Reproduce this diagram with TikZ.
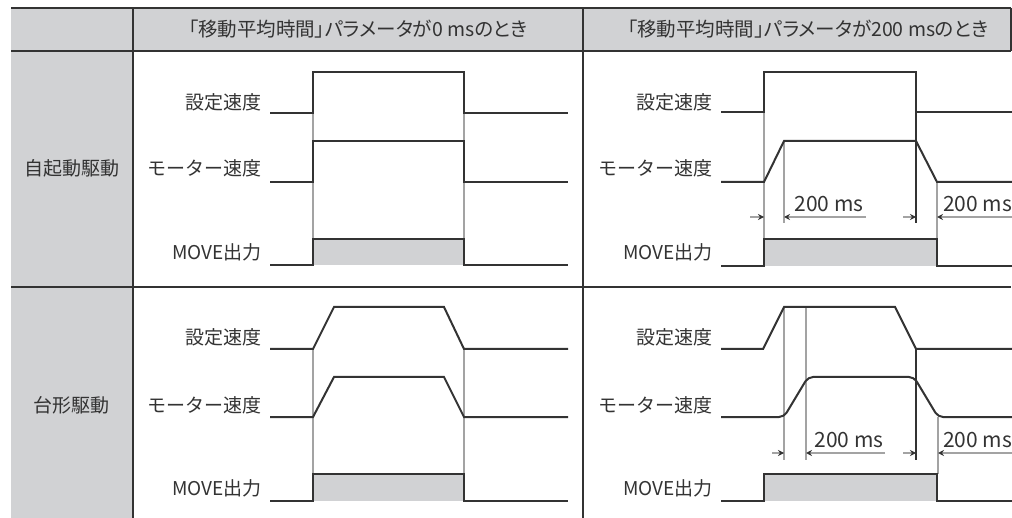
\documentclass[tikz,border=0pt]{standalone}
\usepackage{fontspec}
\setmainfont{Noto Sans CJK JP}
\newfontfamily\headfont[RawFeature=+palt]{Noto Sans CJK JP}
\usepackage{tikz}
\usetikzlibrary{arrows.meta}
\definecolor{cellgray}{HTML}{D1D2D4}
\definecolor{sig}{HTML}{333333}
\definecolor{guide}{HTML}{A3A3A3}
\tikzset{
 sigline/.style={sig, line width=2pt},
 guideline/.style={guide, line width=1.3pt},
 dimline/.style={guide, line width=1.3pt, -{Stealth[color=sig, length=6pt, width=6pt, inset=2pt]}},
 lbl/.style={anchor=east, inner sep=0pt, text=sig, font=\fontsize{19}{22}\selectfont},
 headtxt/.style={inner sep=0pt, text=sig, font=\headfont\fontsize{19.5}{22}\selectfont},
 rowtxt/.style={inner sep=0pt, text=sig, font=\fontsize{19}{22}\selectfont},
 dimtxt/.style={inner sep=0pt, text=sig, font=\fontsize{21}{24}\selectfont}
}

\begin{document}
\begin{tikzpicture}[x=1pt,y=-1pt]
\useasboundingbox (0,0) rectangle (1012,518);
\clip (0,0) rectangle (1012,518);
% table
\fill[cellgray] (11,8) rectangle (1011,51);
\fill[cellgray] (11,51) rectangle (133,518);
\draw[sigline] (11,8) -- (1011,8);
\draw[sigline] (11,51) -- (1011,51);
\draw[sigline] (11,287) -- (1011,287);
\draw[sigline] (133,8) -- (133,518);
\draw[sigline] (583,8) -- (583,518);
\draw[sigline] (1011,8) -- (1011,51);
\node[headtxt] (head0) at (358,29) {「移動平均時間」パラメータが0 msのとき};
\node[headtxt] (head200) at (808,29) {「移動平均時間」パラメータが200 msのとき};
\node[rowtxt] (rowjiki) at (72,168) {自起動駆動};
\node[rowtxt] (rowdai) at (72,405) {台形駆動};
\foreach \xr/\c in {262/l, 713/r} {
 \node[lbl] (set1\c) at (\xr,102) {設定速度};
 \node[lbl] (mot1\c) at (\xr,168) {モーター速度};
 \node[lbl] (move1\c) at (\xr,252) {MOVE出力};
 \node[lbl] (set2\c) at (\xr,337) {設定速度};
 \node[lbl] (mot2\c) at (\xr,405) {モーター速度};
 \node[lbl] (move2\c) at (\xr,488) {MOVE出力};
}

% 0 ms, self-start
\draw[guideline] (313,113) -- (313,239);
\draw[guideline] (464,113) -- (464,239);
\fill[cellgray] (313,239) rectangle (464,265);
\draw[sigline] (270,113) -- (313,113) -- (313,72) -- (464,72) -- (464,113) -- (568,113);
\draw[sigline] (270,182) -- (313,182) -- (313,141) -- (464,141) -- (464,182) -- (568,182);
\draw[sigline] (270,265) -- (313,265) -- (313,239) -- (464,239) -- (464,265) -- (568,265);

% 0 ms, trapezoid
\draw[guideline] (313,349) -- (313,474);
\draw[guideline] (464,349) -- (464,474);
\fill[cellgray] (313,474) rectangle (464,501);
\draw[sigline] (270,349) -- (313,349) -- (334,307) -- (444,307) -- (464,349) -- (568,349);
\draw[sigline] (270,417) -- (313,417) -- (334,377) -- (444,377) -- (464,417) -- (568,417);
\draw[sigline] (270,501) -- (313,501) -- (313,474) -- (464,474) -- (464,501) -- (568,501);

% 200 ms, self-start
\draw[guideline] (764,112) -- (764,239);
\draw[guideline] (784,141) -- (784,223);
\draw[sig, line width=1.3pt] (916,112) -- (916,223);
\draw[guideline] (937,182) -- (937,239);
\fill[cellgray] (764,239) rectangle (937,266);
\draw[sigline] (721,112) -- (764,112) -- (764,72) -- (916,72) -- (916,112) -- (1015,112);
\draw[sigline] (721,182) -- (764,182) -- (784,141) -- (916,141) -- (937,182) -- (1015,182);
\draw[sigline] (721,266) -- (764,266) -- (764,239) -- (937,239) -- (937,266) -- (1015,266);
\coordinate (d1a) at (750,217);
\coordinate (d1b) at (866,217);
\coordinate (d1c) at (903,217);
\coordinate (d1d) at (1015,217);
\draw[dimline] (d1a) -- (764,217);
\draw[dimline] (d1b) -- (784,217);
\draw[dimline] (d1c) -- (916,217);
\draw[dimline] (d1d) -- (937,217);
\node[dimtxt] (ms1a) at (829,204) {200 ms};
\node[dimtxt, anchor=west] (ms1b) at (943,204) {200 ms};

% 200 ms, trapezoid
\draw[guideline] (784,307) -- (784,460);
\draw[guideline] (806,307) -- (806,460);
\draw[sig, line width=1.3pt] (916,349) -- (916,460);
\draw[guideline] (938,417) -- (938,474);
\fill[cellgray] (764,474) rectangle (937,501);
\draw[sigline] (721,349) -- (763,349) -- (784,307) -- (895,307) -- (916,349) -- (1015,349);
\draw[sigline, rounded corners=5pt] (721,417) -- (784,417) -- (808,377) -- (914,377) -- (938,417) -- (1015,417);
\draw[sigline] (721,501) -- (764,501) -- (764,474) -- (937,474) -- (937,501) -- (1015,501);
\coordinate (d2a) at (772,453);
\coordinate (d2b) at (885,453);
\coordinate (d2c) at (903,453);
\coordinate (d2d) at (1015,453);
\draw[dimline] (d2a) -- (784,453);
\draw[dimline] (d2b) -- (806,453);
\draw[dimline] (d2c) -- (916,453);
\draw[dimline] (d2d) -- (938,453);
\node[dimtxt] (ms2a) at (849,440) {200 ms};
\node[dimtxt, anchor=west] (ms2b) at (943,440) {200 ms};
\end{tikzpicture}
\end{document}
